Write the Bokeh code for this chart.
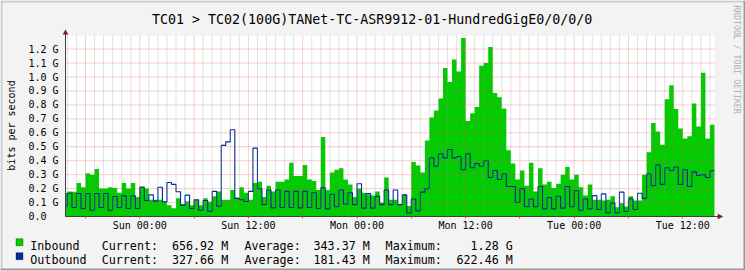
import math
import numpy as np
from bokeh.plotting import figure
from bokeh.models import FixedTicker, BoxAnnotation, PolyAnnotation, Range1d, Label
from bokeh.embed import file_html
from bokeh.resources import INLINE

# ---------------- data (30-minute samples, hours relative to Sun 00:00) ----------------
START_H = -8.5
STEP_H = 0.5

inbound = [  # G bits/s
    0.17, 0.18, 0.177, 0.24, 0.21, 0.31, 0.30, 0.34, 0.20, 0.20,
    0.21, 0.205, 0.17, 0.24, 0.20, 0.24, 0.14, 0.215, 0.20, 0.12,
    0.12, 0.12, 0.11, 0.08, 0.06, 0.13, 0.09, 0.11, 0.08, 0.12,
    0.08, 0.13, 0.105, 0.145, 0.18, 0.12, 0.12, 0.19, 0.135, 0.21,
    0.17, 0.12, 0.24, 0.25, 0.14, 0.22, 0.18, 0.25, 0.25, 0.265,
    0.385, 0.29, 0.29, 0.37, 0.265, 0.255, 0.19, 0.57, 0.19, 0.315,
    0.335, 0.345, 0.265, 0.23, 0.14, 0.20, 0.17, 0.16, 0.15, 0.18,
    0.10, 0.28, 0.12, 0.12, 0.085, 0.155, 0.075, 0.39, 0.365, 0.315,
    0.545, 0.71, 0.76, 0.845, 1.065, 0.965, 1.125, 1.04, 1.28, 0.685,
    0.74, 0.785, 1.08, 1.10, 1.215, 0.885, 0.855, 0.775, 0.475, 0.38,
    0.265, 0.33, 0.22, 0.385, 0.18, 0.345, 0.23, 0.25, 0.205, 0.235,
    0.30, 0.355, 0.265, 0.30, 0.21, 0.15, 0.23, 0.12, 0.12, 0.115,
    0.12, 0.145, 0.067, 0.095, 0.072, 0.145, 0.115, 0.115, 0.30, 0.46,
    0.67, 0.61, 0.515, 0.84, 0.94, 0.77, 0.63, 0.56, 0.575, 0.81,
    0.645, 1.03, 0.56, 0.657,
]

outbound = [  # G bits/s
    0.074, 0.167, 0.065, 0.165, 0.057, 0.165, 0.045, 0.165, 0.065, 0.165,
    0.045, 0.143, 0.065, 0.148, 0.057, 0.148, 0.057, 0.21, 0.115, 0.155,
    0.11, 0.21, 0.105, 0.244, 0.23, 0.177, 0.08, 0.153, 0.057, 0.12,
    0.045, 0.115, 0.038, 0.18, 0.074, 0.51, 0.535, 0.622, 0.13, 0.12,
    0.107, 0.18, 0.49, 0.20, 0.086, 0.19, 0.062, 0.19, 0.065, 0.18,
    0.065, 0.18, 0.062, 0.18, 0.065, 0.17, 0.057, 0.205, 0.055, 0.16,
    0.07, 0.19, 0.09, 0.17, 0.085, 0.235, 0.06, 0.165, 0.06, 0.145,
    0.085, 0.19, 0.085, 0.19, 0.085, 0.155, 0.025, 0.125, 0.04, 0.175,
    0.20, 0.42, 0.36, 0.45, 0.42, 0.48, 0.42, 0.43, 0.335, 0.45,
    0.35, 0.38, 0.36, 0.40, 0.28, 0.33, 0.265, 0.305, 0.215, 0.215,
    0.10, 0.20, 0.07, 0.125, 0.07, 0.215, 0.055, 0.135, 0.055, 0.145,
    0.06, 0.215, 0.07, 0.185, 0.045, 0.125, 0.055, 0.15, 0.05, 0.162,
    0.026, 0.098, 0.026, 0.175, 0.036, 0.127, 0.05, 0.167, 0.13, 0.305,
    0.22, 0.37, 0.23, 0.35, 0.33, 0.355, 0.23, 0.335, 0.215, 0.32,
    0.295, 0.30, 0.28, 0.328,
]

x_tick_hours = [0, 12, 24, 36, 48, 60]
x_tick_labels = ["Sun 00:00", "Sun 12:00", "Mon 00:00", "Mon 12:00", "Tue 00:00", "Tue 12:00"]
y_ticks = [0.0, 0.1, 0.2, 0.3, 0.4, 0.5, 0.6, 0.7, 0.8, 0.9, 1.0, 1.1, 1.2]
y_tick_labels = ["0.0\u00a0\u00a0", "0.1 G", "0.2 G", "0.3 G", "0.4 G", "0.5 G", "0.6 G",
                 "0.7 G", "0.8 G", "0.9 G", "1.0 G", "1.1 G", "1.2 G"]

title_text = "TC01 > TC02(100G)TANet-TC-ASR9912-01-HundredGigE0/0/0/0"
y_label_text = "bits per second"
watermark_text = "RRDTOOL / TOBI OETIKER"
series_names = ["Inbound", "Outbound"]
current_vals = ["656.92 M", "327.66 M"]
average_vals = ["343.37 M", "181.43 M"]
maximum_vals = ["1.28 G", "622.46 M"]

# ---------------- styling / geometry ----------------
GREEN = "#00CC00"
BLUE = "#002A97"
BG = "#F3F3F3"
ARROW = "#7F1F1F"
AXIS = "#404040"
MGRID = "#E05050"
GRID = "#8F8F8F"
MONO = "DejaVu Sans Mono"

W, H = 745, 270
PX_H0, PX_PER_H = 139.3, 9.05      # pixel x of Sun 00:00, pixels per hour
PY_ZERO, PX_PER_G = 216.0, 139.5   # pixel y of 0, pixels per 1 G

def hx(px):
    return (px - PX_H0) / PX_PER_H

def vy(py):
    return (PY_ZERO - py) / PX_PER_G

AX_X, CANVAS_R, CANVAS_T = 65.0, 714.0, 35.0

# the frame covers the whole picture; axes sit at fixed data locations inside it
p = figure(width=W, height=H, output_backend="svg", toolbar_location=None, title=None,
           x_range=Range1d(hx(0), hx(W)), y_range=Range1d(vy(H), vy(0)),
           min_border=0, background_fill_color=BG, border_fill_color=BG,
           outline_line_color=None)
p.xgrid.visible = False
p.ygrid.visible = False

# white canvas
p.add_layout(BoxAnnotation(left=hx(AX_X), right=hx(CANVAS_R), bottom=0, top=vy(CANVAS_T),
                           fill_color="white", fill_alpha=1.0, line_color=None,
                           level="underlay"))

n = len(inbound)
xs = START_H + STEP_H * np.arange(n + 1)
in_y = np.array(inbound + [inbound[-1]])
out_y = np.array(outbound + [outbound[-1]])
xs_c = np.clip(xs, hx(AX_X), None)

p.varea_step(x=xs_c, y1=np.zeros(n + 1), y2=in_y, step_mode="after",
             fill_color=GREEN, fill_alpha=1.0)
p.step(xs_c, out_y, mode="after", line_color=BLUE, line_width=1.1)

# grid (drawn over the data, like rrdtool)
top_v = vy(CANVAS_T)
hours = np.arange(math.ceil(hx(AX_X)), math.floor(hx(CANVAS_R)) + 1)
minor_h = hours[hours % 6 != 0]
major_h = hours[hours % 6 == 0]
p.segment(x0=minor_h, y0=0, x1=minor_h, y1=top_v, line_color=GRID,
          line_alpha=0.5, line_dash="1 1", line_width=1)
p.segment(x0=major_h, y0=0, x1=major_h, y1=top_v, line_color=MGRID,
          line_alpha=0.55, line_dash="1 1", line_width=1)
hy = np.array(y_ticks[1:])
p.segment(x0=hx(AX_X), y0=hy, x1=hx(CANVAS_R), y1=hy, line_color=MGRID,
          line_alpha=0.55, line_dash="1 1", line_width=1)

# axes (Bokeh axes pinned at 0 / left edge of the canvas)
xa = p.xaxis[0]
xa.fixed_location = 0
xa.ticker = FixedTicker(ticks=[int(h) for h in major_h])
ovr = {int(h): "" for h in major_h}
for h, lab in zip(x_tick_hours, x_tick_labels):
    ovr[h] = lab
xa.major_label_overrides = ovr
xa.bounds = (hx(AX_X), hx(718))
xa.axis_line_color = AXIS
xa.major_tick_in = 0
xa.major_tick_out = 2
xa.major_tick_line_color = MGRID
xa.minor_tick_out = 0
xa.minor_tick_in = 0
xa.major_label_text_font = MONO
xa.major_label_text_font_size = "10px"
xa.major_label_text_color = "black"
xa.major_label_standoff = 1

ya = p.yaxis[0]
ya.fixed_location = hx(AX_X)
ya.ticker = FixedTicker(ticks=y_ticks)
ya.major_label_overrides = {t: s for t, s in zip(y_ticks, y_tick_labels)}
ya.bounds = (0, vy(31))
ya.axis_line_color = AXIS
ya.major_tick_in = 0
ya.major_tick_out = 0
ya.minor_tick_in = 0
ya.minor_tick_out = 0
ya.major_label_text_font = MONO
ya.major_label_text_font_size = "10px"
ya.major_label_text_color = "black"
ya.major_label_standoff = 7

# axis arrows
p.add_layout(PolyAnnotation(xs=[hx(AX_X), hx(AX_X - 2.7), hx(AX_X + 2.7)],
                            ys=[vy(29), vy(34), vy(34)],
                            fill_color=ARROW, fill_alpha=1, line_color=ARROW, line_width=0.5))
p.add_layout(PolyAnnotation(xs=[hx(722.5), hx(717.3), hx(717.3)],
                            ys=[0, vy(PY_ZERO - 2.7), vy(PY_ZERO + 2.7)],
                            fill_color=ARROW, fill_alpha=1, line_color=ARROW, line_width=0.5))

# title, axis title, watermark
p.add_layout(Label(x=hx(371.7), y=vy(19.3), text=title_text, text_align="center",
                   text_baseline="alphabetic", text_font=MONO, text_font_size="13.3px",
                   text_color="black"))
p.add_layout(Label(x=hx(11), y=vy(125), text=y_label_text, angle=math.pi / 2,
                   text_align="center", text_baseline="middle", text_font=MONO,
                   text_font_size="10px", text_color="black"))
p.add_layout(Label(x=hx(736), y=vy(59), text=watermark_text, angle=-math.pi / 2,
                   text_align="center", text_baseline="middle", text_font=MONO,
                   text_font_size="8.2px", text_color="#B0B0B0"))

# legend
rows_py = [245.8, 259.8]
box_tops = [238.2, 252.2]
colors = [GREEN, BLUE]
for k in range(2):
    by = box_tops[k]
    p.add_layout(BoxAnnotation(left=hx(15.5), right=hx(22.5), top=vy(by), bottom=vy(by + 7),
                               fill_color=colors[k], fill_alpha=1, line_color="black",
                               line_width=1))
    base = vy(rows_py[k])
    pieces = [(29.8, series_names[k], "left"), (101.2, "Current:", "left"),
              (171.4, current_vals[k], "left"), (243.9, "Average:", "left"),
              (313.0, average_vals[k], "left"), (385.1, "Maximum:", "left"),
              (512.3, maximum_vals[k], "right")]
    for px, txt, al in pieces:
        p.add_layout(Label(x=hx(px), y=base, text=txt, text_align=al,
                           text_baseline="alphabetic", text_font=MONO,
                           text_font_size="11.7px", text_color="black"))

# outer shade border
for (l, r, t, b, c) in [(0, W, 0, 2, "#CBCBCB"), (0, 2, 0, H, "#CBCBCB"),
                        (0, W, H - 2, H, "#999999"), (W - 2, W, 0, H, "#999999")]:
    p.add_layout(BoxAnnotation(left=hx(l), right=hx(r), top=vy(t), bottom=vy(b),
                               fill_color=c, fill_alpha=1, line_color=None))

open("out.html", "w").write(file_html(p, INLINE))
